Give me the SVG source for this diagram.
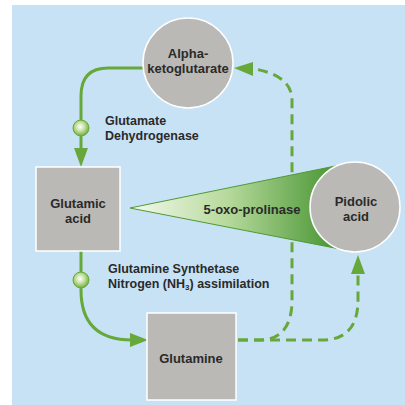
<svg xmlns="http://www.w3.org/2000/svg" width="405" height="405" viewBox="0 0 405 405">
<defs>
<style>
.node{fill:#bab9b6;stroke:#ffffff;stroke-width:1.5}
.t{font-family:"Liberation Sans",Arial,sans-serif;font-weight:bold;fill:#2a2a2a}
.nt{font-size:13px;text-anchor:middle}
.lt{font-size:12.5px}
.solid{fill:none;stroke:#67a83b;stroke-width:3}
.dash{fill:none;stroke:#67a83b;stroke-width:3;stroke-dasharray:10 6}
.head{fill:#67a83b}
</style>
<linearGradient id="cone" x1="130" y1="0" x2="345" y2="0" gradientUnits="userSpaceOnUse">
<stop offset="0" stop-color="#f4f9ee"/>
<stop offset="0.45" stop-color="#b7da9c"/>
<stop offset="1" stop-color="#3f8f2b"/>
</linearGradient>
<radialGradient id="bulb" cx="0.45" cy="0.42" r="0.6">
<stop offset="0" stop-color="#ffffff"/>
<stop offset="0.45" stop-color="#c7e2a4"/>
<stop offset="1" stop-color="#6aa83a"/>
</radialGradient>
</defs>
<rect x="12" y="5" width="393" height="400" fill="#c8e2f5"/>
<g id="connectors">
<path class="solid" d="M143,68 L108,68 Q81,68 81,96 L81,150"/>
<polygon class="head" points="74,148 88,148 81,167"/>
<path class="solid" d="M81,251 L81,290 C81,325 100,340 132,340"/>
<polygon class="head" points="130,333 130,347 148,340"/>
<path class="dash" d="M238,340 L262,340 Q292,338 292,300 L292,100 Q292,76 255,69"/>
<polygon class="head" points="253,62 253,76 234,68"/>
<path class="dash" d="M238,340 L322,340 Q358,340 358,300 L358,273"/>
<polygon class="head" points="351,274 365,274 358,255"/>
<circle cx="81" cy="128" r="8" fill="url(#bulb)" stroke="#6aa83a" stroke-width="1"/>
<circle cx="81" cy="280" r="8" fill="url(#bulb)" stroke="#6aa83a" stroke-width="1"/>
<polygon points="130,208 350,163 350,251" fill="url(#cone)" stroke="#4f9a33" stroke-width="1"/>
</g>
<g id="alpha">
<circle class="node" cx="188" cy="63" r="45" stroke-width="2"/>
<text class="t nt" x="188" y="58">Alpha-</text>
<text class="t nt" x="188" y="73">ketoglutarate</text>
</g>
<g id="glutamic">
<rect class="node" x="36" y="167" width="84" height="84"/>
<text class="t nt" x="78" y="208">Glutamic</text>
<text class="t nt" x="78" y="223">acid</text>
</g>
<g id="pidolic">
<circle class="node" cx="355" cy="207" r="45" stroke-width="2"/>
<text class="t nt" x="356" y="206">Pidolic</text>
<text class="t nt" x="356" y="221">acid</text>
</g>
<g id="glutamine">
<rect class="node" x="147" y="313" width="89" height="87"/>
<text class="t nt" x="191" y="363">Glutamine</text>
</g>
<g id="labels">
<text class="t nt" x="252" y="214">5-oxo-prolinase</text>
<text class="t lt" x="105" y="125">Glutamate</text>
<text class="t lt" x="105" y="140">Dehydrogenase</text>
<text class="t lt" x="108" y="273">Glutamine Synthetase</text>
<text class="t lt" x="108" y="288">Nitrogen (NH<tspan font-size="8" dy="2">3</tspan><tspan dy="-2">) assimilation</tspan></text>
</g>
</svg>
